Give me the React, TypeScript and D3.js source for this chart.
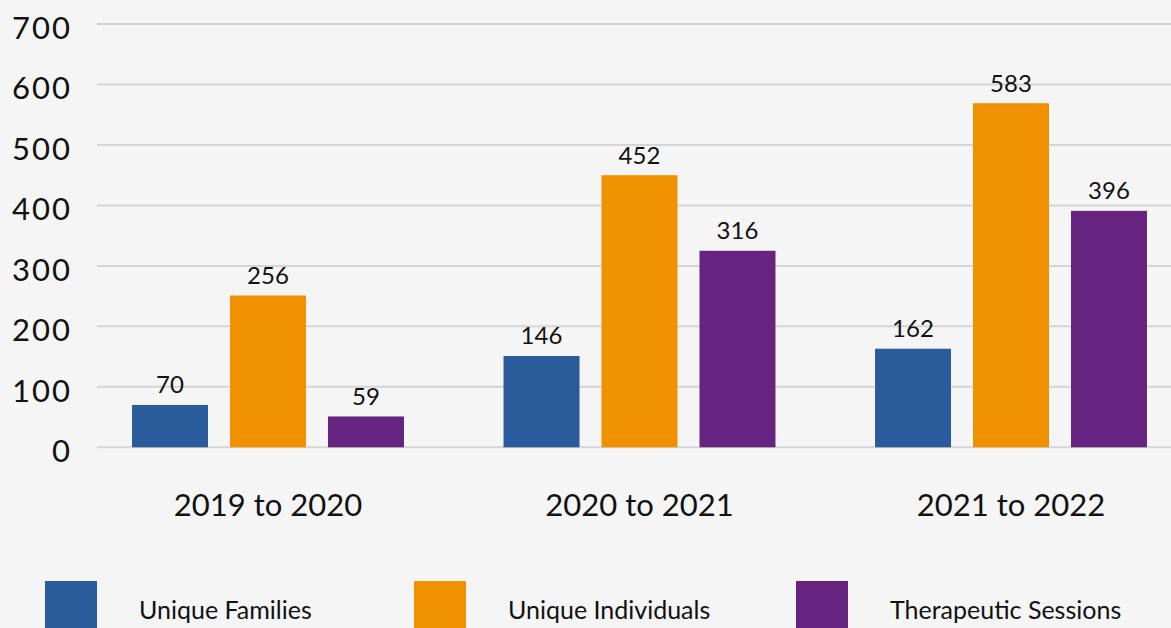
import React from "react";
import * as d3 from "d3";

const categories = ["2019 to 2020", "2020 to 2021", "2021 to 2022"];
const seriesNames = ["Unique Families", "Unique Individuals", "Therapeutic Sessions"];
const seriesColors = ["#2a5b9b", "#f09100", "#66237f"];
// data labels as printed on the chart
const familiesLabels = [70, 146, 162];
const individualsLabels = [256, 452, 583];
const sessionsLabels = [59, 316, 396];
// bar heights as drawn in the picture
const familiesBars = [70, 151, 163];
const individualsBars = [251, 450, 569];
const sessionsBars = [51, 325, 391];
const yTicks = [0, 100, 200, 300, 400, 500, 600, 700];

const W = 1171;
const H = 628;
const FONT = "Lato, 'Open Sans', sans-serif";

export default function App() {
  const labels = [familiesLabels, individualsLabels, sessionsLabels];
  const bars = [familiesBars, individualsBars, sessionsBars];

  const y = d3.scaleLinear().domain([0, 700]).range([447.3, 24]);
  const x0 = d3
    .scaleBand<string>()
    .domain(categories)
    .range([82.25, 1196.75])
    .paddingInner(0.268)
    .paddingOuter(0.134);
  const x1 = d3
    .scaleBand<string>()
    .domain(seriesNames)
    .range([0, x0.bandwidth()])
    .paddingInner(0.2245)
    .paddingOuter(0);

  const legendX = [45, 414, 796];

  return (
    <svg
      width={W}
      height={H}
      style={{ position: "fixed", left: 0, top: 0, display: "block" }}
      fontFamily={FONT}
    >
      <rect x={0} y={0} width={W} height={H} fill="#f5f5f5" />
      {yTicks.map((t) => (
        <g key={t}>
          <line x1={97} x2={W} y1={y(t)} y2={y(t)} stroke="#d5d5d5" strokeWidth={2} />
          <text
            x={72}
            y={y(t) + 15}
            textAnchor="end"
            fontSize={31}
            letterSpacing={2}
            fill="#111"
          >
            {t}
          </text>
        </g>
      ))}
      {categories.map((c, ci) => (
        <g key={c} transform={`translate(${x0(c)},0)`}>
          {seriesNames.map((s, si) => {
            const v = bars[si][ci];
            const bx = x1(s)!;
            return (
              <g key={s}>
                <rect
                  x={bx}
                  y={y(v)}
                  width={x1.bandwidth()}
                  height={y(0) - y(v)}
                  fill={seriesColors[si]}
                />
                <text
                  x={bx + x1.bandwidth() / 2}
                  y={y(v) - 11.5}
                  textAnchor="middle"
                  fontSize={24}
                  fill="#111"
                >
                  {labels[si][ci]}
                </text>
              </g>
            );
          })}
          <text
            x={x0.bandwidth() / 2}
            y={515.7}
            textAnchor="middle"
            fontSize={31}
            fill="#111"
          >
            {c}
          </text>
        </g>
      ))}
      {seriesNames.map((s, si) => (
        <g key={s} transform={`translate(${legendX[si]},581)`}>
          <rect x={0} y={0} width={52} height={52} fill={seriesColors[si]} />
          <text x={94} y={38} fontSize={25} fill="#111">
            {s}
          </text>
        </g>
      ))}
    </svg>
  );
}
